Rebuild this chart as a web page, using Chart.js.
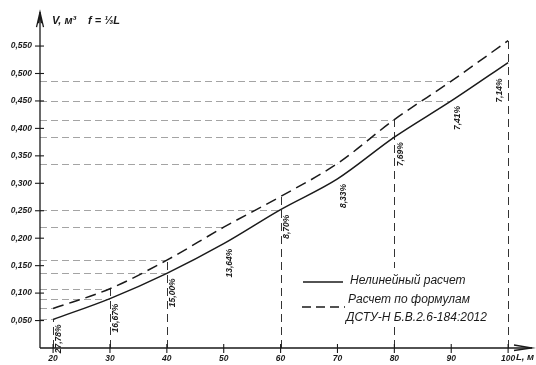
<!DOCTYPE html>
<html>
<head>
<meta charset="utf-8">
<script src="https://cdn.jsdelivr.net/npm/chart.js@4/dist/chart.umd.min.js"></script>
<style>
  html, body { margin: 0; padding: 0; background: #ffffff; }
  #wrap { width: 536px; height: 365px; }
</style>
</head>
<body>
<div id="wrap"><canvas id="c" width="536" height="365"></canvas></div>
<script>
// Span L, m
const spans = [20, 30, 40, 50, 60, 70, 80, 90, 100];
// Volume V, m3 – nonlinear analysis
const nonlinearVolume = [0.052, 0.090, 0.136, 0.190, 0.252, 0.308, 0.384, 0.450, 0.520];
// Volume V, m3 – design formulas of ДСТУ-Н Б.В.2.6-184:2012
const formulaVolume = [0.072, 0.108, 0.160, 0.220, 0.276, 0.336, 0.416, 0.486, 0.560];

const xTickValues = [20, 30, 40, 50, 60, 70, 80, 90, 100];
const yTickValues = [0.05, 0.10, 0.15, 0.20, 0.25, 0.30, 0.35, 0.40, 0.45, 0.50, 0.55];

// Reference lines: spans where a level is carried to the V axis
const formulaLevelSpans = [20, 30, 40, 50, 70, 80, 90];
const nonlinearLevelSpans = [20, 30, 40, 60, 80, 90];
// Spans with a vertical drop line, and which curve it rises to
const dropSpans = [20, 30, 40, 60, 80, 100];
const dropTo = ['nonlinear', 'formula', 'formula', 'formula', 'formula', 'formula'];

const INK = '#1a1a1a';
const FONT = '"Liberation Sans", "DejaVu Sans", sans-serif';

function valueAt(series, span) {
  return series[spans.indexOf(span)];
}
function pct(i) {
  const d = (formulaVolume[i] - nonlinearVolume[i]) / formulaVolume[i] * 100;
  return d.toFixed(2).replace('.', ',') + '%';
}

const guides = {
  id: 'guides',
  beforeDatasetsDraw(chart) {
    const { ctx, scales: { x, y } } = chart;
    const x0 = x.left;
    ctx.save();
    // horizontal levels
    ctx.strokeStyle = '#9a9a9a';
    ctx.lineWidth = 0.9;
    ctx.setLineDash([7, 4]);
    const hline = (span, v) => {
      const py = Math.round(y.getPixelForValue(v)) + 0.5;
      ctx.beginPath();
      ctx.moveTo(x0, py);
      ctx.lineTo(x.getPixelForValue(span), py);
      ctx.stroke();
    };
    formulaLevelSpans.forEach(s => hline(s, valueAt(formulaVolume, s)));
    nonlinearLevelSpans.forEach(s => hline(s, valueAt(nonlinearVolume, s)));
    // vertical drops
    ctx.strokeStyle = '#333';
    ctx.lineWidth = 1;
    ctx.setLineDash([8, 5]);
    dropSpans.forEach((s, k) => {
      const v = dropTo[k] === 'formula' ? valueAt(formulaVolume, s) : valueAt(nonlinearVolume, s);
      const px = Math.round(x.getPixelForValue(s)) + 0.5;
      ctx.beginPath();
      ctx.moveTo(px, y.getPixelForValue(0));
      ctx.lineTo(px, y.getPixelForValue(v));
      ctx.stroke();
    });
    ctx.restore();
  },
  afterDraw(chart) {
    const { ctx, scales: { x, y } } = chart;
    const ax = x.left, ay = y.bottom;
    ctx.save();
    ctx.strokeStyle = INK;
    ctx.fillStyle = INK;
    ctx.lineWidth = 1.3;
    ctx.setLineDash([]);
    // axes
    ctx.beginPath();
    ctx.moveTo(ax, ay);
    ctx.lineTo(ax, y.top - 1);
    ctx.moveTo(ax, ay);
    ctx.lineTo(x.right, ay);
    ctx.stroke();
    // arrow heads
    ctx.beginPath();
    ctx.moveTo(ax - 3.5, y.top + 14);
    ctx.lineTo(ax, y.top - 1);
    ctx.lineTo(ax + 3.5, y.top + 14);
    ctx.moveTo(ax - 1.5, y.top + 10);
    ctx.lineTo(ax, y.top + 3);
    ctx.lineTo(ax + 1.5, y.top + 10);
    ctx.stroke();
    ctx.beginPath();
    ctx.moveTo(x.right - 18, ay - 3);
    ctx.lineTo(x.right, ay);
    ctx.lineTo(x.right - 18, ay + 2.5);
    ctx.stroke();
    // tick marks crossing the axes
    ctx.lineWidth = 1.1;
    yTickValues.forEach(v => {
      const py = y.getPixelForValue(v);
      ctx.beginPath();
      ctx.moveTo(ax - 5, py);
      ctx.lineTo(ax + 4, py);
      ctx.stroke();
    });
    xTickValues.forEach(v => {
      const px = x.getPixelForValue(v);
      ctx.beginPath();
      ctx.moveTo(px, ay - 4);
      ctx.lineTo(px, ay + 5);
      ctx.stroke();
    });

    // axis titles
    ctx.font = 'italic bold 11px ' + FONT;
    ctx.textBaseline = 'alphabetic';
    ctx.textAlign = 'left';
    ctx.fillText('V, м³', 52, 24);
    ctx.fillText('f = ⅓L', 88, 24);
    ctx.font = 'italic bold 9.5px ' + FONT;
    ctx.fillText('L, м', 516, 360);

    // relative difference labels
    ctx.font = 'italic bold 8.5px ' + FONT;
    ctx.textAlign = 'right';
    ctx.textBaseline = 'middle';
    spans.forEach((s, i) => {
      const last = i === spans.length - 1;
      const px = x.getPixelForValue(s) + (last ? -8 : 6);
      const py = y.getPixelForValue(nonlinearVolume[i]) + (last ? 16 : 5);
      ctx.save();
      ctx.translate(px, py);
      ctx.rotate(-Math.PI / 2);
      ctx.fillText(pct(i), 0, 0);
      ctx.restore();
    });

    // legend
    ctx.fillStyle = '#ffffff';
    ctx.fillRect(298, 268, 205, 59);
    ctx.fillStyle = INK;
    ctx.lineWidth = 1.4;
    ctx.beginPath();
    ctx.moveTo(303, 282);
    ctx.lineTo(343, 282);
    ctx.stroke();
    ctx.setLineDash([9, 5]);
    ctx.beginPath();
    ctx.moveTo(302, 307);
    ctx.lineTo(345, 307);
    ctx.stroke();
    ctx.setLineDash([]);
    ctx.font = 'italic 12px ' + FONT;
    ctx.textAlign = 'left';
    ctx.textBaseline = 'middle';
    ctx.fillText('Нелинейный расчет', 350, 281);
    ctx.fillText('Расчет по формулам', 348, 300);
    ctx.fillText('ДСТУ-Н Б.В.2.6-184:2012', 346, 318);
    ctx.restore();
  }
};

const toPoints = arr => spans.map((s, i) => ({ x: s, y: arr[i] }));

new Chart(document.getElementById('c'), {
  type: 'line',
  data: {
    datasets: [
      {
        label: 'Нелинейный расчет',
        data: toPoints(nonlinearVolume),
        borderColor: INK,
        borderWidth: 1.5,
        pointRadius: 0,
        cubicInterpolationMode: 'monotone',
        fill: false
      },
      {
        label: 'Расчет по формулам ДСТУ-Н Б.В.2.6-184:2012',
        data: toPoints(formulaVolume),
        borderColor: INK,
        borderWidth: 1.5,
        borderDash: [11, 6],
        pointRadius: 0,
        cubicInterpolationMode: 'monotone',
        fill: false
      }
    ]
  },
  options: {
    responsive: false,
    animation: false,
    layout: { padding: { top: 11, right: 4, left: 0, bottom: 0 } },
    plugins: { legend: { display: false }, tooltip: { enabled: false } },
    scales: {
      x: {
        type: 'linear',
        min: 17.7,
        max: 104.2,
        grid: { display: false, drawTicks: false },
        border: { display: false },
        afterFit(s) { s.height = 17; },
        afterBuildTicks(s) { s.ticks = xTickValues.map(v => ({ value: v })); },
        ticks: {
          padding: 6,
          color: INK,
          font: { family: FONT, size: 8.5, style: 'italic', weight: 'bold' },
          maxRotation: 0,
          autoSkip: false,
          callback: v => String(v)
        }
      },
      y: {
        type: 'linear',
        min: 0,
        max: 0.61,
        grid: { display: false, drawTicks: false },
        border: { display: false },
        afterFit(s) { s.width = 40; },
        afterBuildTicks(s) { s.ticks = yTickValues.map(v => ({ value: v })); },
        ticks: {
          padding: 8,
          color: INK,
          font: { family: FONT, size: 8.5, style: 'italic', weight: 'bold' },
          autoSkip: false,
          callback: v => v.toFixed(3).replace('.', ',')
        }
      }
    }
  },
  plugins: [guides]
});
</script>
</body>
</html>
